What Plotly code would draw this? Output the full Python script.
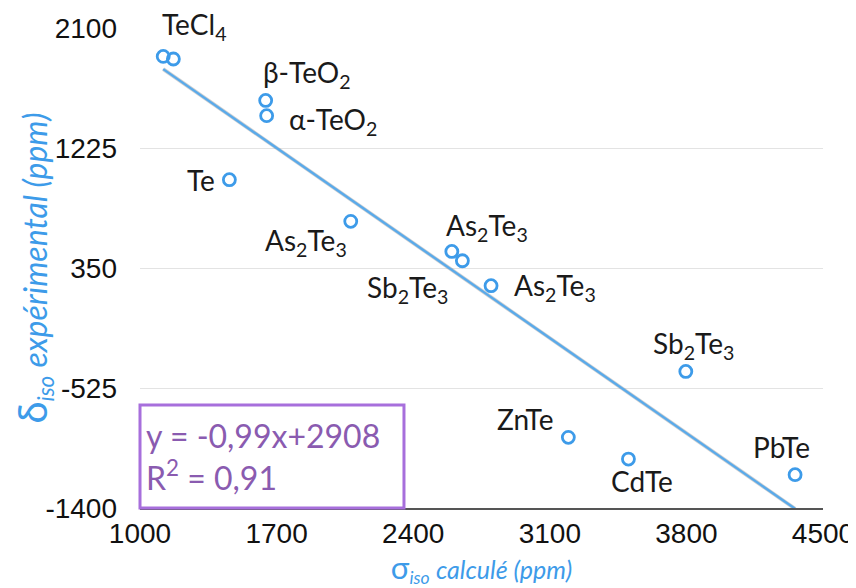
import plotly.graph_objects as go

# ---- data ----
labels = ["TeCl<sub>4</sub>", "", "β-TeO<sub>2</sub>", "α-TeO<sub>2</sub>", "Te",
          "As<sub>2</sub>Te<sub>3</sub>", "As<sub>2</sub>Te<sub>3</sub>", "Sb<sub>2</sub>Te<sub>3</sub>",
          "As<sub>2</sub>Te<sub>3</sub>", "Sb<sub>2</sub>Te<sub>3</sub>", "ZnTe", "CdTe", "PbTe"]
sigma_calc = [1119, 1171, 1644, 1649, 1458, 2080, 2598, 2652, 2799, 3797, 3195, 3503, 4357]
delta_exp = [1893, 1874, 1572, 1461, 994, 690, 471, 403, 221, -404, -885, -1043, -1157]
fit_slope = -0.99
fit_intercept = 2908
equation_text = "y = -0,99x+2908<br>R<sup>2</sup> = 0,91"
x_ticks = [1000, 1700, 2400, 3100, 3800, 4500]
y_ticks = [-1400, -525, 350, 1225, 2100]

# label placement (pixel offsets, anchors)
label_style = [
    dict(xshift=31, yshift=30, xanchor="center"),
    None,
    dict(xshift=41, yshift=26, xanchor="center"),
    dict(xshift=20, yshift=-5, xanchor="left"),
    dict(xshift=-12, yshift=0, xanchor="right"),
    dict(xshift=-45, yshift=-21, xanchor="center"),
    dict(xshift=35, yshift=24, xanchor="center"),
    dict(xshift=-12, yshift=-28, xanchor="right"),
    dict(xshift=21, yshift=-1, xanchor="left"),
    dict(xshift=8, yshift=26, xanchor="center"),
    dict(xshift=-43, yshift=18, xanchor="center"),
    dict(xshift=14, yshift=-22, xanchor="center"),
    dict(xshift=-14, yshift=28, xanchor="center"),
]

BLUE = "#3d9be9"
LINE_BLUE = "#5aaaea"
PURPLE = "#8a5bb0"
BOX_PURPLE = "#a76fdc"
LABEL_FONT = "Lato, 'Open Sans', sans-serif"
TICK_FONT = "'Liberation Sans', Arial, sans-serif"

fig = go.Figure()

xmin, xmax = min(sigma_calc), max(sigma_calc)
fit_x = [xmin, xmax]
fit_y = [fit_slope * v + fit_intercept for v in fit_x]

# shadow of trendline
fig.add_trace(go.Scatter(x=fit_x, y=fit_y, mode="lines",
                         line=dict(color="rgba(120,120,120,0.35)", width=3.8),
                         hoverinfo="skip", showlegend=False))
fig.add_trace(go.Scatter(x=fit_x, y=fit_y, mode="lines",
                         line=dict(color=LINE_BLUE, width=2.4),
                         hoverinfo="skip", showlegend=False))

fig.add_trace(go.Scatter(x=sigma_calc, y=delta_exp, mode="markers",
                         marker=dict(symbol="circle-open", size=12, color=BLUE,
                                     line=dict(width=2.8, color=BLUE)),
                         showlegend=False))

for xv, yv, lab, st in zip(sigma_calc, delta_exp, labels, label_style):
    if st is None:
        continue
    fig.add_annotation(x=xv, y=yv, text=lab, showarrow=False,
                       xshift=st["xshift"], yshift=st["yshift"], xanchor=st["xanchor"],
                       yanchor="middle",
                       font=dict(family=LABEL_FONT, size=28, color="#1a1a1a"))

# equation box
fig.add_shape(type="rect", xref="paper", yref="paper", x0=0.0, x1=0.3865, y0=0.0, y1=0.2146,
              line=dict(color=BOX_PURPLE, width=3), fillcolor="white", layer="above")
fig.add_annotation(xref="paper", yref="paper", x=0.006, y=0.107, text=equation_text,
                   showarrow=False, xanchor="left", yanchor="middle", align="left",
                   font=dict(family=LABEL_FONT, size=32, color=PURPLE))

# page body has an 8px default margin: shrink the figure so the plot area lands as in the reference
fig.update_layout(
    width=848, height=580,
    margin=dict(l=132, r=33, t=20, b=80),
    paper_bgcolor="white", plot_bgcolor="white",
    xaxis=dict(range=[1000, 4500], tickvals=x_ticks, ticktext=[str(t) for t in x_ticks],
               automargin=False,
               showgrid=False, zeroline=False, showline=True, linecolor="#555555", linewidth=1.5,
               ticks="", tickfont=dict(family=TICK_FONT, size=28, color="#111111"),
               title=dict(text="<span style='font-size:31px'>σ</span><sub><i>iso</i></sub> <i>calculé (ppm)</i>",
                          font=dict(family=LABEL_FONT, size=25, color=BLUE), standoff=8)),
    yaxis=dict(range=[-1400, 2100], tickvals=y_ticks, ticktext=[str(t) for t in y_ticks],
               automargin=False,
               showgrid=True, gridcolor="#e3e3e3", gridwidth=1.2, zeroline=False, showline=False,
               ticks="", ticklabelstandoff=22, tickfont=dict(family=TICK_FONT, size=28, color="#111111"),
               title=dict(text="<span style='font-size:40px'>δ</span><sub><i>iso</i></sub> <i>expérimental (ppm)</i>",
                          font=dict(family=LABEL_FONT, size=32, color=BLUE), standoff=10)),
)

fig.write_html("out.html")
